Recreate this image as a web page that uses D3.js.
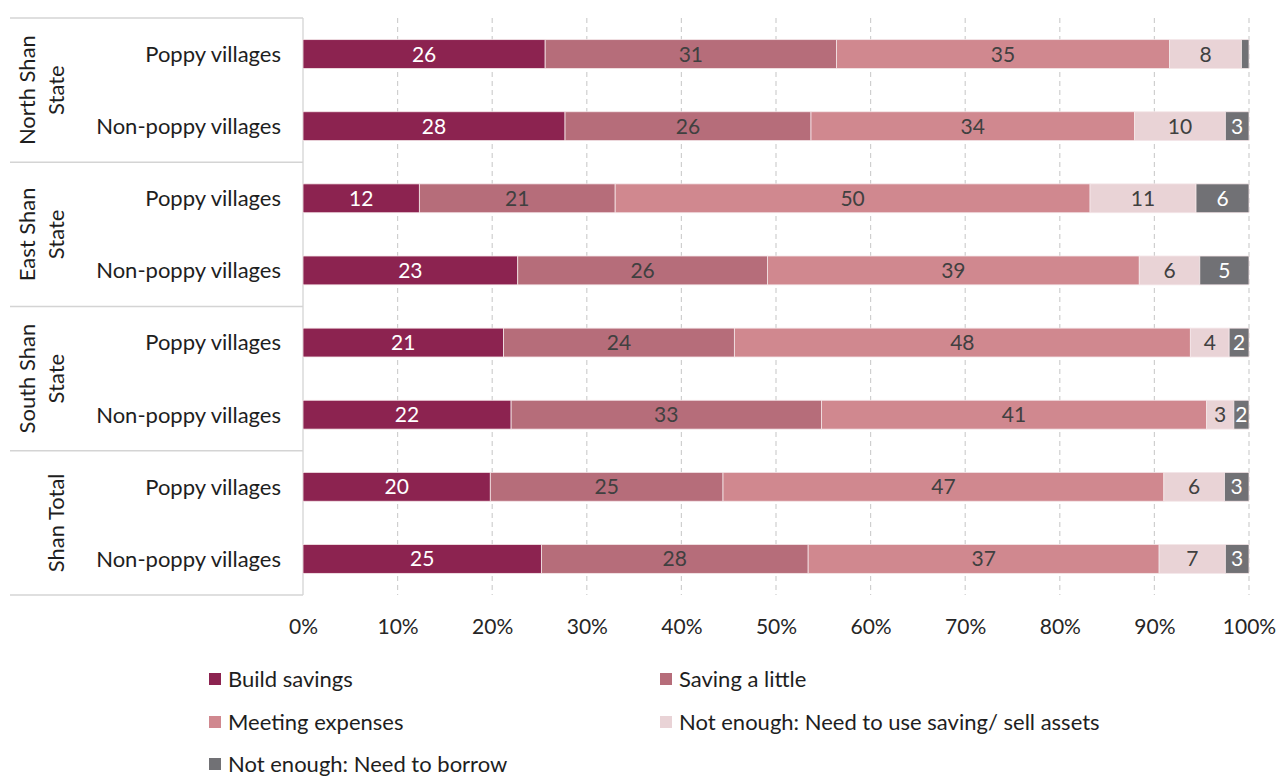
<!DOCTYPE html>
<html>
<head>
<meta charset="utf-8">
<script src="https://cdn.jsdelivr.net/npm/d3@7"></script>
<style>
  html, body { margin: 0; padding: 0; background: #fff; }
  svg { display: block; font-family: Lato, "Open Sans", sans-serif; }
</style>
</head>
<body>
<svg id="chart" width="1278" height="779"></svg>
<script>
// ---- data ----
const rowLabels = ["Poppy villages", "Non-poppy villages", "Poppy villages", "Non-poppy villages",
                   "Poppy villages", "Non-poppy villages", "Poppy villages", "Non-poppy villages"];
const groupNames = ["North Shan State", "East Shan State", "South Shan State", "Shan Total"];
const groupLines = [["North Shan", "State"], ["East Shan", "State"], ["South Shan", "State"], ["Shan Total"]];
const rowsPerGroup = [2, 2, 2, 2];
const seriesNames = ["Build savings", "Saving a little", "Meeting expenses",
                     "Not enough: Need to use saving/ sell assets", "Not enough: Need to borrow"];
const buildSavings     = [25.6, 27.7, 12.3, 22.7, 21.2, 22.0, 19.8, 25.2];
const savingLittle     = [30.8, 26.0, 20.7, 26.4, 24.4, 32.8, 24.6, 28.2];
const meetingExpenses  = [35.2, 34.2, 50.2, 39.3, 48.2, 40.7, 46.6, 37.1];
const notEnoughSell    = [7.6, 9.6, 11.2, 6.4, 4.1, 2.9, 6.4, 7.0];
const notEnoughBorrow  = [0.8, 2.5, 5.6, 5.2, 2.1, 1.6, 2.6, 2.5];
const tickValues = [0, 10, 20, 30, 40, 50, 60, 70, 80, 90, 100];

const colors = ["#8c2350", "#b66d7a", "#d0888f", "#e9d3d6", "#717175"];
const labelColors = ["#ffffff", "#404040", "#404040", "#404040", "#ffffff"];

// ---- build table ----
const seriesArrays = [buildSavings, savingLittle, meetingExpenses, notEnoughSell, notEnoughBorrow];
const table = rowLabels.map((r, i) => {
  const o = { idx: i };
  seriesNames.forEach((s, k) => { o[s] = seriesArrays[k][i]; });
  return o;
});
const stacked = d3.stack().keys(seriesNames)(table);

const svg = d3.select("#chart");
const plotTop = 18, plotBottom = 595, plotLeft = 303, plotRight = 1249;
const textSize = 22;

const x = d3.scaleLinear().domain([0, 100]).range([plotLeft, plotRight]);
const y = d3.scaleBand().domain(d3.range(rowLabels.length)).range([plotTop, plotBottom])
  .paddingInner(0.6).paddingOuter(0.3);

// gridlines
svg.append("g").selectAll("line").data(tickValues.filter(t => t > 0)).join("line")
  .attr("x1", d => x(d)).attr("x2", d => x(d))
  .attr("y1", plotTop).attr("y2", plotBottom)
  .attr("stroke", "#cfcfcf").attr("stroke-width", 1.2).attr("stroke-dasharray", "5,4");

// left table lines
const tableLeft = 10;
const groupBounds = [];
let acc = 0;
rowsPerGroup.forEach((n) => {
  const top = acc === 0 ? plotTop : (y(acc - 1) + y.bandwidth() + y(acc)) / 2;
  const last = acc + n - 1;
  const bottom = last === rowLabels.length - 1 ? plotBottom : (y(last) + y.bandwidth() + y(last + 1)) / 2;
  groupBounds.push([top, bottom]);
  acc += n;
});
const hLines = [plotTop].concat(groupBounds.map(b => b[1]));
svg.append("g").selectAll("line").data(hLines).join("line")
  .attr("x1", tableLeft).attr("x2", plotLeft)
  .attr("y1", d => d).attr("y2", d => d)
  .attr("stroke", "#d4d4d4").attr("stroke-width", 1.3);
svg.append("line").attr("x1", plotLeft).attr("x2", plotLeft)
  .attr("y1", plotTop).attr("y2", plotBottom)
  .attr("stroke", "#d4d4d4").attr("stroke-width", 1.3);

// bars
const layers = svg.append("g").selectAll("g").data(stacked).join("g")
  .attr("fill", (d, i) => colors[i]);
layers.selectAll("rect").data(d => d).join("rect")
  .attr("x", d => x(d[0]))
  .attr("width", d => x(d[1]) - x(d[0]))
  .attr("y", d => y(d.data.idx))
  .attr("height", y.bandwidth())
  .attr("stroke", "#f4e6e8").attr("stroke-width", 0.8);

// value labels
stacked.forEach((layer, k) => {
  svg.append("g").selectAll("text").data(layer.filter(d => d[1] - d[0] >= 1)).join("text")
    .attr("x", d => (x(d[0]) + x(d[1])) / 2)
    .attr("y", d => y(d.data.idx) + y.bandwidth() / 2)
    .attr("dy", "0.36em")
    .attr("text-anchor", "middle")
    .attr("font-size", 21)
    .attr("fill", labelColors[k])
    .text(d => Math.round(d[1] - d[0]));
});

// row labels
svg.append("g").selectAll("text").data(rowLabels).join("text")
  .attr("x", 281)
  .attr("y", (d, i) => y(i) + y.bandwidth() / 2)
  .attr("dy", "0.36em")
  .attr("text-anchor", "end")
  .attr("font-size", textSize)
  .attr("fill", "#1e1e1e")
  .text(d => d);

// group labels (rotated)
groupLines.forEach((lines, g) => {
  const cy = (groupBounds[g][0] + groupBounds[g][1]) / 2;
  const lineH = 29;
  const n = lines.length;
  const baseX = n === 1 ? 56 : 27;
  lines.forEach((ln, j) => {
    const cx = baseX + j * lineH;
    svg.append("text")
      .attr("transform", `translate(${cx},${cy}) rotate(-90)`)
      .attr("text-anchor", "middle")
      .attr("dy", "0.36em")
      .attr("font-size", textSize)
      .attr("fill", "#1e1e1e")
      .text(ln);
  });
});

// x axis
const xAxis = svg.append("g").attr("transform", `translate(0,${plotBottom})`)
  .call(d3.axisBottom(x).tickValues(tickValues).tickFormat(d => d + "%").tickSize(0).tickPadding(24));
xAxis.select(".domain").remove();
xAxis.selectAll("text").attr("font-size", 21).attr("fill", "#262626")
  .attr("font-family", "Lato, 'Open Sans', sans-serif");

// legend
const legendPos = [[209, 679], [660, 679], [209, 722], [660, 722], [209, 764]];
const legend = svg.append("g").selectAll("g").data(seriesNames).join("g")
  .attr("transform", (d, i) => `translate(${legendPos[i][0]},${legendPos[i][1]})`);
legend.append("rect").attr("x", 0).attr("y", -6).attr("width", 12).attr("height", 12)
  .attr("fill", (d, i) => colors[i]);
legend.append("text").attr("x", 19).attr("dy", "0.36em").attr("font-size", textSize)
  .attr("fill", "#1e1e1e").text(d => d);
</script>
</body>
</html>
